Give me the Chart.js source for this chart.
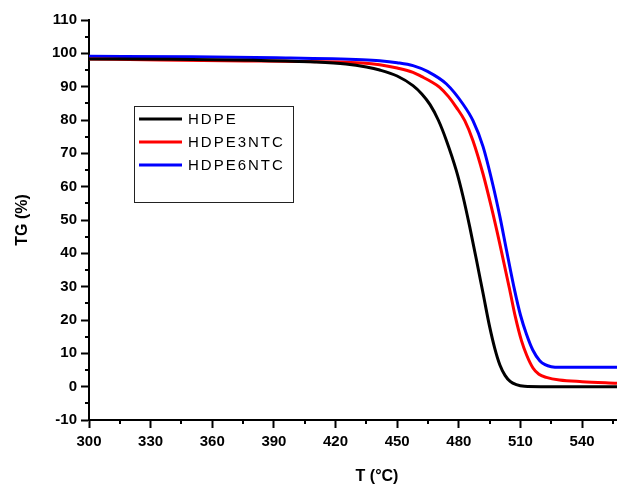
<!DOCTYPE html>
<html>
<head>
<meta charset="utf-8">
<script src="https://cdn.jsdelivr.net/npm/chart.js@4.4.1/dist/chart.umd.min.js"></script>
<style>
  html, body { margin: 0; padding: 0; background: #fff; }
  #tgChart { display: block; }
</style>
</head>
<body>
<canvas id="tgChart" width="617" height="486"></canvas>
<script>
// data
const seriesNames = ['HDPE', 'HDPE3NTC', 'HDPE6NTC'];
const seriesColors = ['#000000', '#ff0000', '#0000ff'];

const tempHDPE = [300, 340, 380, 410, 425, 435, 441.5, 450, 457.7, 462, 466, 470, 474, 478.8, 482, 485.3, 488.6, 491.8, 495, 497.5, 500, 502.5, 505, 508, 512, 520, 557];
const tgHDPE   = [98.3, 98.2, 97.9, 97.4, 96.8, 95.9, 95.0, 93.2, 90.3, 87.8, 84.6, 80, 73.8, 64.8, 57.2, 48, 38, 28, 18, 11.5, 6.5, 3.4, 1.6, 0.6, 0.1, 0, 0];

const temp3NTC = [300, 335, 376, 393, 433, 441.5, 450, 457.7, 462, 466, 470.7, 475, 478.8, 482.9, 486.9, 491.8, 495.8, 499.9, 504.8, 507.5, 510.5, 513, 516.1, 519, 522.6, 529, 540, 557];
const tg3NTC   = [98.3, 98.0, 97.7, 97.6, 97.1, 96.6, 95.6, 94.3, 93.0, 91.7, 89.8, 87.0, 83.8, 79.8, 73.8, 63.8, 54, 43, 29, 21, 13.8, 9.5, 5.6, 3.7, 2.8, 2.0, 1.5, 1.0];

const temp6NTC = [300, 350, 391, 433, 441.5, 450, 457.7, 465, 474, 482, 486.9, 491.8, 496.6, 500, 503.1, 507.2, 510, 512.9, 516, 519.4, 522, 525, 529, 557];
const tg6NTC   = [99.1, 99.0, 98.7, 98.1, 97.8, 97.2, 96.3, 94.5, 90.8, 84.8, 79.8, 72, 60.5, 51, 41.3, 28.8, 21.5, 15.8, 11, 7.8, 6.6, 6.0, 5.8, 5.8];

const xTicks = [300, 330, 360, 390, 420, 450, 480, 510, 540];
const yTicks = [-10, 0, 10, 20, 30, 40, 50, 60, 70, 80, 90, 100, 110];

function toPoints(xs, ys) {
  return xs.map((x, i) => ({ x: x, y: ys[i] }));
}

const allTemps = [tempHDPE, temp3NTC, temp6NTC];
const allTg = [tgHDPE, tg3NTC, tg6NTC];

const datasets = seriesNames.map((name, i) => ({
  label: name,
  data: toPoints(allTemps[i], allTg[i]),
  borderColor: seriesColors[i],
  backgroundColor: seriesColors[i],
  borderWidth: 3,
  pointRadius: 0,
  cubicInterpolationMode: 'monotone',
  fill: false
}));

const tickFont = { family: 'Liberation Sans, Arial, sans-serif', size: 15, weight: 'bold' };

// minor ticks, axis title for x and the boxed legend
const extras = {
  id: 'extras',
  afterDraw(chart) {
    const ctx = chart.ctx;
    const xs = chart.scales.x;
    const ys = chart.scales.y;
    const area = chart.chartArea;
    ctx.save();
    ctx.strokeStyle = '#000';
    ctx.lineWidth = 2;
    ctx.beginPath();
    for (let v = 315; v < xs.max; v += 30) {
      const px = Math.round(xs.getPixelForValue(v));
      ctx.moveTo(px, area.bottom);
      ctx.lineTo(px, area.bottom + 4);
    }
    for (let v = -5; v < ys.max; v += 10) {
      const py = Math.round(ys.getPixelForValue(v));
      ctx.moveTo(area.left, py);
      ctx.lineTo(area.left - 4, py);
    }
    ctx.stroke();

    // x title
    ctx.fillStyle = '#000';
    ctx.font = 'bold 16px "Liberation Sans", Arial, sans-serif';
    ctx.textAlign = 'center';
    ctx.textBaseline = 'middle';
    ctx.fillText('T (°C)', 377, 477);

    // legend box
    ctx.lineWidth = 1;
    ctx.strokeStyle = '#222';
    ctx.strokeRect(134.5, 106.5, 159, 96);
    ctx.font = '15px "Liberation Sans", Arial, sans-serif';
    ctx.textAlign = 'left';
    ctx.letterSpacing = '2px';
    chart.data.datasets.forEach((ds, i) => {
      const y = 119 + i * 23;
      ctx.strokeStyle = ds.borderColor;
      ctx.lineWidth = 3;
      ctx.beginPath();
      ctx.moveTo(139, y);
      ctx.lineTo(182, y);
      ctx.stroke();
      ctx.fillStyle = '#000';
      ctx.fillText(ds.label, 188, y + 1);
    });
    ctx.restore();
  }
};

const chart = new Chart(document.getElementById('tgChart').getContext('2d'), {
  type: 'line',
  data: { datasets: datasets },
  plugins: [extras],
  options: {
    responsive: false,
    animation: false,
    devicePixelRatio: 1,
    layout: { padding: { top: 20, right: 0, left: 0, bottom: 0 } },
    plugins: {
      legend: { display: false },
      tooltip: { enabled: false }
    },
    scales: {
      x: {
        type: 'linear',
        min: 300,
        max: 557,
        afterBuildTicks: (scale) => { scale.ticks = xTicks.map(v => ({ value: v })); },
        afterFit: (scale) => { scale.height = 66; },
        ticks: { color: '#000', font: tickFont, padding: 5, includeBounds: false },
        grid: { drawOnChartArea: false, drawTicks: true, tickLength: 8, tickColor: '#000', tickWidth: 2 },
        border: { display: true, color: '#000', width: 2 }
      },
      y: {
        min: -10,
        max: 110,
        afterBuildTicks: (scale) => { scale.ticks = yTicks.map(v => ({ value: v })); },
        afterFit: (scale) => { scale.width = 89; },
        ticks: { color: '#000', font: tickFont, padding: 4 },
        grid: { drawOnChartArea: false, drawTicks: true, tickLength: 8, tickColor: '#000', tickWidth: 2 },
        border: { display: true, color: '#000', width: 2 },
        title: {
          display: true,
          text: 'TG (%)',
          color: '#000',
          font: { family: 'Liberation Sans, Arial, sans-serif', size: 16, weight: 'bold' },
          padding: { top: 13, bottom: 4 }
        }
      }
    }
  }
});
</script>
</body>
</html>
